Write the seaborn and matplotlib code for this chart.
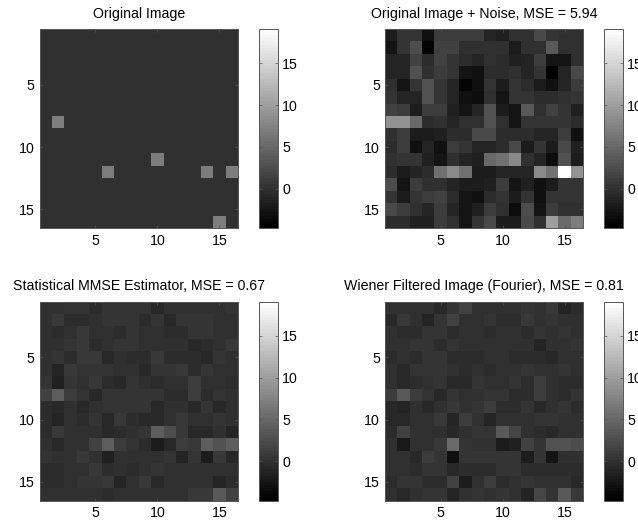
import numpy as np
import matplotlib
matplotlib.use('Agg')
import matplotlib.pyplot as plt
from matplotlib.colors import ListedColormap
import seaborn as sns

# values (rows top to bottom)
original = np.zeros((16, 16))
for r, c in [(8, 2), (12, 6), (11, 10), (12, 14), (12, 16), (16, 15)]:
    original[r - 1, c - 1] = 7

noisy = np.array([
    [-2, 0.5, 0.5, -3, 1, 1, 1, 1, -1, -1.5, 0, 0, 2, 0.5, 0, 0],
    [-2.5, 0.5, 2.5, -4, 1.5, 1.5, 0, 0, 0, 0, -2, 0, 0, 3.5, 0, 0],
    [-1, -1, 1.5, -0.5, 1.5, 0.5, -0.5, -1, 0, -0.5, -1.5, -1, 1, -2.5, -2.5, 0],
    [-1, -1, 3, 0, 1, 0.5, -2.5, -3, -0.5, -0.5, 0, -1, 0.5, -4.7, -1, 2],
    [0, -2.5, 0.5, 3, 0.5, -1, -4.3, -3, 0.5, -2, 0.5, -0.5, -2, -3, -1, 1],
    [0.5, -1, -1, 3, 0.5, -1, -3, -3.5, 0, -2.5, 0.5, 0.5, -0.5, -0.5, 0, 0.5],
    [1.5, 1, -2, 1, 1, -1.5, -2.5, -1, 3, -2, -2.5, 3.5, 0, 1.5, 0.5, -1.5],
    [9, 9, 5, -0.5, 0, -1, 0, 0, 3, 0, -2.5, 0.5, 0.5, 0.5, 0.5, -0.5],
    [0, 1, -2, -2, -1.5, -0.5, -0.5, 2, 2, -0.5, -0.5, -0.5, -1, -1, 1, -3],
    [-0.5, 1, -3, -1, -3, 1, 0.5, -1, -1, -0.5, 2, -2, 0.5, -2, 2, -1.5],
    [0, 0.5, 0.5, -1.5, -2.5, 0, -1, -1.5, 5, 6, 8, 0, -1, -3.5, 3, -2],
    [-0.5, -2, -1, -0.5, 6, 8, 6, -2, -2, -1, -1, -1, 8, 6, 19, 9],
    [2.5, -2.5, 1, 0, 0, -1, -2, -2, -1.5, 1, -2.5, -1.5, -3, -2, 0.5, 0.5],
    [0.5, -2, 0.5, 1, 1.5, -0.5, -2.5, -3, -0.5, 0.5, -2, 0.5, -3, 0.5, 0.5, 0.5],
    [2, 1, 0, -1, 1, -1, -2.5, -1.5, 1, 0, -3.5, 2.5, -2.5, 1, 0, 0],
    [-0.5, -0.5, -1.5, -1.5, 1, 0, -2.5, 0.5, 2, -2, -2, 2, 0, 10, 5, 7],
])

mmse = np.array([
    [0, 0, 0.2, 0.2, -0.3, 0.5, 0.5, 0.5, 0.3, -0.8, 0, 0, 0, 0, 0, 0.2],
    [0, 0.8, -0.3, -0.3, 0, 0.5, 0.5, 0.2, -0.3, 0.2, -0.8, 0.5, 0.5, 0.5, 0, 0],
    [0, -0.3, 0, 0.8, 0, 0, -0.3, 0.2, 0, 0, -0.3, -0.3, 0.2, 0.2, 0, 0],
    [0, 0, 0.5, 0.8, -0.3, 0, 0.3, 0.3, 0, 0, 0, 0, -0.7, -0.3, 0, 0.8],
    [0, 0.2, -0.5, 0.7, 0.7, -0.8, 0, -0.3, -0.5, 0.7, -0.3, -0.3, -0.3, -0.7, 0.3, -0.2],
    [0, -1, 0.7, 0.3, 0.2, 0.2, 0, 0, -0.8, 0.2, 0.2, 0.7, -0.3, 0.5, 0, 0],
    [0.2, -1.5, 0.2, 0, 0.6, -0.3, -0.8, 0.5, 0, -0.5, 0, 0, 1, 0, 0, -0.3],
    [1.5, 4, 1, 0.3, -0.8, 0.2, 0.5, 0.2, 0.5, 0.5, -0.3, -0.3, 1, -0.3, 0.5, 0],
    [-0.3, -0.8, 0, -0.7, -0.2, 0.5, 0.3, 0.5, 0.5, -0.7, -0.2, -0.2, -0.7, 0.5, -0.8, 0],
    [-0.3, -1, 0, -0.5, 0.2, -0.8, 0.7, -0.3, -0.7, -0.7, 0, 0.7, 0, 0, 0.2, 0],
    [-0.3, 0.7, 0, 0, 0, -0.8, -0.5, 0, 0.5, 4, 2.5, 0.7, -0.7, -0.7, -0.2, -1],
    [0, -0.8, 0, 0, 1.3, 4, 1, 0.2, -0.3, -1.8, -0.7, 1, 0.7, 4, 3, 4],
    [0.2, 0, 0, 0.7, -0.2, -1.7, 0, 0, 0, 0, 0.2, -1, 0.2, -2, 0.7, -0.7],
    [-0.3, -0.3, 0, 0, 0.7, -0.3, 0, -0.3, 0, 0.5, 0, 0, 0, 0, 0, -0.2],
    [-0.3, -0.3, 0, 0.2, 0.2, 0.8, -1, -0.2, 0.6, -0.9, 0.1, 0, 0, 0, -1, -0.3],
    [0, -0.2, -0.2, 0, 0, -0.6, 0, 0, 0, 0, -0.2, -0.2, 0.8, 0.8, 3.5, 1.5],
])

wiener = np.array([
    [0, 0, 0, 0, -0.7, 0.2, 1.5, 0, -0.2, -0.2, 0, 0.5, 0, 0.7, -1, -0.3],
    [-0.8, 0.7, 0, -1, 0.2, 1.3, 0, -0.2, 0.5, -0.3, -0.6, 0.7, 0, 0.3, -0.2, -0.2],
    [-0.2, -0.5, -0.5, 0.2, 0.2, -0.3, -0.2, 0, -0.3, 0, 0, -0.5, 0.5, 0, 0.2, 0],
    [0, -0.2, 0.2, 0.2, -0.3, 0.2, 0, 0, 0, 0, 0, 0, -1.3, -0.2, -0.2, 0.3],
    [-0.5, 0, -0.4, 0.4, 0.4, -0.3, -0.6, -0.6, 0, 0, -0.3, -0.3, -0.3, -0.7, 0, 0],
    [-0.2, -0.8, 0.4, 0.2, 0.4, 0, -0.6, -0.2, -0.6, 0, -0.2, 0.5, -0.2, 0, 0.5, 0],
    [-0.2, -0.9, -0.4, 0, 0.4, -0.7, -0.7, 0.3, 0, 0, 0.4, -0.5, 0.9, 0, -0.3, -0.3],
    [1, 3.5, 0.9, 0.3, -0.7, 0.2, 0, 0, 0.3, 0.3, -0.5, -0.6, 0.9, 0, -0.3, 0.4],
    [-0.7, -1, 0, -0.7, -0.2, 0.7, -0.2, 0.2, 0.9, -0.5, -0.3, 0.4, -0.8, 0, 0.2, -0.4],
    [-0.7, -0.8, 0, 0, 0.6, -1, 0.9, 0, -1.2, 0, 0, 0, 0.2, 0.2, 0, 0],
    [-0.4, 1.5, 0, 0, 0, -0.8, 0, 0.5, 0.4, 3.5, 1.8, 0, -0.4, -0.7, 0, -0.2],
    [-0.2, -2.3, 0, -0.2, 0.8, 5, 0.5, -0.2, 0, -2, -1.5, 1.3, 0.2, 3, 3, 2.5],
    [0, 0, -0.7, 0.9, 0.2, -3, 0.2, 0.2, 0.2, 0.2, 0.4, -1.8, 0.2, -2.8, 0, 0],
    [-0.2, -0.2, -0.4, 0.5, 0.2, -0.7, -0.3, -0.3, -0.4, 0.2, 0.2, -0.3, -0.3, -0.3, -0.3, -0.3],
    [-0.4, 0.3, 0.3, -0.6, -0.3, 1.5, -1.8, 0, 1, -0.5, 0, 0.5, -0.2, -0.2, -0.2, -0.7],
    [0, -0.8, -0.2, 0.3, 0.3, -1, 0, 0.3, -0.2, 0.2, -0.2, -1, 1.8, 0.4, 3.5, 0.8],
])

titles = ['Original Image', 'Original Image + Noise, MSE = 5.94',
          'Statistical MMSE Estimator, MSE = 0.67', 'Wiener Filtered Image (Fourier), MSE = 0.81']
images = [original, noisy, mmse, wiener]
cell_ticks = [5, 10, 15]
cbar_ticks = [0, 5, 10, 15]
vmin, vmax = -4.7, 19.1

W, H = 638, 521
plt.rcParams['font.family'] = ['Liberation Sans', 'DejaVu Sans']

frame = '#555555'
# matlab gray colormap has 64 levels
cmap = ListedColormap(plt.get_cmap('gray')(np.linspace(0, 1, 64)))

fig = plt.figure(figsize=(W / 100, H / 100), dpi=100)

# pixel boxes of the panels: left, top of heatmap and left of colorbar
boxes = [(39.5, 29, 259), (384.7, 29, 604), (39.5, 301.5, 259), (384.7, 301.5, 604)]

for data, title, (x0, y0, cx) in zip(images, titles, boxes):
    ax = fig.add_axes([x0 / W, 1 - (y0 + 199) / H, 198.5 / W, 199 / H])
    cax = fig.add_axes([cx / W, 1 - (y0 + 199) / H, 19 / W, 199 / H])
    sns.heatmap(data, ax=ax, cbar_ax=cax, cmap=cmap, vmin=vmin, vmax=vmax,
                xticklabels=False, yticklabels=False, cbar_kws={'ticks': cbar_ticks})

    ax.set_xticks([t - 0.5 for t in cell_ticks])
    ax.set_xticklabels(cell_ticks, rotation=0)
    ax.set_yticks([t - 0.5 for t in cell_ticks])
    ax.set_yticklabels(cell_ticks, rotation=0)
    ax.tick_params(direction='in', length=2, width=0.5, top=True, right=True,
                   labelsize=10.2, color=frame)
    ax.tick_params(axis='x', pad=4)
    ax.tick_params(axis='y', pad=3.5)
    for spine in ax.spines.values():
        spine.set_visible(True)
        spine.set_linewidth(0.7)
        spine.set_color(frame)
    ax.set_title(title, fontsize=10.2, pad=8)

    cb = ax.collections[0].colorbar
    cb.outline.set_linewidth(0.7)
    cb.outline.set_edgecolor(frame)
    cax.tick_params(direction='in', length=2, width=0.5, left=True, right=True,
                    labelsize=10.2, pad=3, color=frame)

fig.savefig('out.png', dpi=100)
